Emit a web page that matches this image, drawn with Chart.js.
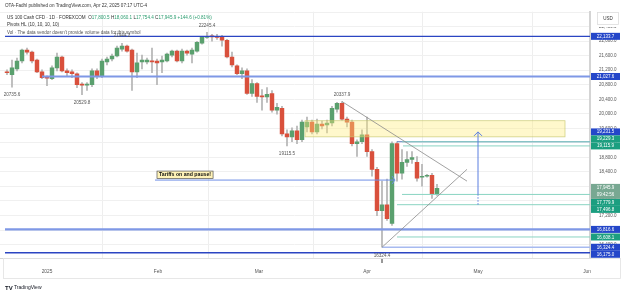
<!DOCTYPE html>
<html>
<head>
<meta charset="utf-8">
<script src="https://cdn.jsdelivr.net/npm/chart.js@4.4.1/dist/chart.umd.min.js"></script>
<style>
  html, body { margin: 0; padding: 0; background: #fff; }
  canvas { display: block; }
</style>
</head>
<body>
<canvas id="chart" width="625" height="293"></canvas>
<script>
// US 100 Cash CFD, daily bars. Bar index 1 = Dec 20 2024 ... 87 = Apr 22 2025
const opens = [21157, 21076, 21238, 21455, 21754, 21700, 21483, 21157, 20994, 20967,
  21266, 21564, 21184, 21157, 21103, 20804, 20790, 20804, 21184, 21021,
  21428, 21510, 21591, 21781, 21862, 21754, 21157, 21428, 21428, 21455,
  21455, 21428, 21455, 21618, 21727, 21455, 21727, 21645, 21727, 21944,
  22107, 22134, 22134, 22107, 22025, 21564, 21320, 21103, 21184, 20560,
  20832, 20479, 20466, 20560, 20099, 20153, 19448, 19366, 19529, 19285,
  19638, 19773, 19502, 19719, 19692, 19746, 20126, 20289, 19855, 19773,
  19177, 19231, 19421, 18960, 18471, 17332, 17494, 16979, 19177, 18363,
  18661, 18742, 18661, 18254, 18281, 18308, 17800.5];
const highs = [21211, 21483, 21537, 21781, 21808, 21727, 21510, 21211, 21049, 21320,
  21672, 21591, 21238, 21211, 21130, 20859, 20859, 21238, 21238, 21510,
  21564, 21645, 21862, 21944.2, 21890, 21781, 21672, 21618, 21537, 21808,
  21510, 21591, 21672, 21754, 21754, 21781, 21754, 21808, 21998, 22134,
  22245.4, 22188, 22188, 22161, 22052, 21700, 21347, 21266, 21238, 20940,
  20859, 20669, 20723, 20641, 20289, 20207, 19557, 19611, 19665, 19828,
  19909, 19828, 19855, 19801, 19828, 20207, 20316, 20337.9, 19909, 19828,
  19285, 19557, 19909, 19014, 18525, 18146, 18200, 19231, 19231, 19014,
  18960, 18960, 18824, 18607, 18335, 18363, 18060.1];
const lows = [21076, 20735.6, 21184, 21401, 21645, 21401, 21130, 20967, 20777, 20940,
  21184, 21157, 21049, 20994, 20723, 20529.8, 20641, 20750, 20967, 20994,
  21347, 21455, 21564, 21727, 21700, 20641, 20994, 21238, 21374, 21130,
  20804, 21130, 21428, 21564, 21428, 21401, 21618, 21401, 21700, 21917,
  22079, 21998, 22052, 21862, 21537, 21293, 21076, 20967, 20533, 20479,
  20316, 20099, 20316, 20045, 19990, 19394, 19115.5, 19231, 19177, 19231,
  19502, 19448, 19448, 19584, 19475, 19665, 20045, 19828, 19638, 19116,
  18824, 19177, 18824, 18281, 17196, 16324.4, 17061, 16925, 18146, 18200,
  18553, 18634, 18146, 18010, 18254, 17670, 17754.4];
const closes = [21130, 21266, 21455, 21754, 21700, 21455, 21157, 20994, 20980, 21266,
  21564, 21184, 21130, 21103, 20804, 20790, 20810, 21184, 21021, 21455,
  21510, 21591, 21808, 21862, 21727, 21157, 21401, 21483, 21483, 21428,
  21401, 21483, 21645, 21727, 21455, 21727, 21672, 21754, 21971, 22107,
  22134, 22120, 22107, 22025, 21564, 21347, 21103, 21184, 20560, 20832,
  20479, 20466, 20533, 20099, 20180, 19448, 19366, 19529, 19285, 19773,
  19773, 19502, 19719, 19665, 19746, 20153, 20289, 19855, 19773, 19177,
  19231, 19421, 18960, 18471, 17332, 17494, 17115, 19177, 18363, 18661,
  18742, 18797, 18227, 18281, 18308, 17801.3, 17945.9];

// time axis
const monthTicks = [9, 31.2, 51.4, 73, 95.2, 117];
const monthLabels = ['2025', 'Feb', 'Mar', 'Apr', 'May', 'Jun'];

// price axis ticks
const priceTicks = [16000, 16400, 16800, 17200, 17600, 18000, 18400, 18800, 19200, 19600,
  20000, 20400, 20800, 21200, 21600, 22000, 22400, 22800];

// pivot high / low labels (bar index, which end)
const pivotBars = [2, 16, 24, 41, 57, 68, 76];
const pivotSides = ['low', 'low', 'high', 'high', 'low', 'high', 'low'];

// horizontal levels drawn on the chart, with the bar they start from
const levelPrices = [22133.7, 21027.6, 19231.5, 19229.3, 19115.9, 17779.9, 17496.8, 16816.6, 16608.1, 16324.4, 16175.0];
const levelFrom   = [0.6, 8, 79, 80, 80.2, 80, 79, 0.6, 79, 76, 0.6];
const levelKinds  = ['dark', 'wide', 'soft', 'teal', 'teal', 'teal', 'teal', 'wide', 'teal', 'light', 'dark'];

// yellow supply zone
const zoneBars = [60.6, 112.6];
const zonePrices = [19366, 19810];

// triangle lines [bar, price]
const triUpper = [[68, 20337.9], [93, 18146]];
const triLower = [[76, 16324.4], [93, 18471]];

// projection arrow and tariff note
const projBar = 95.2;
const projPrices = [17496.8, 17779.9, 19502];
const tariffBars = [30.6, 78.6];
const tariffPrice = 18175;
const tariffText = 'Tariffs on and pause!';
const countdown = '09:42:56';

const GREEN = '#5aa06e', RED = '#d9503c';
const levelStyles = {
  dark:  { line: '#2b45c2', width: 1.4, badge: '#2446c9' },
  wide:  { line: '#7f98e6', width: 2.2, badge: '#2446c9' },
  soft:  { line: '#5f7fc0', width: 1,   badge: '#2446c9' },
  light: { line: '#a7baf0', width: 1.4, badge: '#2446c9' },
  teal:  { line: '#8ad4c2', width: 1,   badge: '#1b9e80' }
};

function fmt(v) {
  return v.toLocaleString('en-US', { minimumFractionDigits: 1, maximumFractionDigits: 1 });
}

const bodyData = opens.map((o, i) => ({ x: i + 1, y: [o, closes[i]] }));
const wickData = lows.map((l, i) => ({ x: i + 1, y: [l, highs[i]] }));
const candleColors = opens.map((o, i) => closes[i] >= o ? GREEN : RED);

const FONT = "'Liberation Sans', Arial, sans-serif";

const overlay = {
  id: 'overlay',
  afterDatasetsDraw(chart) {
    const { ctx, chartArea: a, scales: { x, y } } = chart;
    ctx.save();
    ctx.beginPath();
    ctx.rect(a.left, a.top, a.right - a.left, a.bottom - a.top);
    ctx.clip();

    // zone
    const zx1 = x.getPixelForValue(zoneBars[0]), zx2 = x.getPixelForValue(zoneBars[1]);
    const zy1 = y.getPixelForValue(zonePrices[1]), zy2 = y.getPixelForValue(zonePrices[0]);
    ctx.fillStyle = 'rgba(255, 236, 120, 0.38)';
    ctx.fillRect(zx1, zy1, zx2 - zx1, zy2 - zy1);
    ctx.strokeStyle = 'rgba(200, 200, 110, 0.8)';
    ctx.lineWidth = 0.8;
    ctx.strokeRect(zx1, zy1, zx2 - zx1, zy2 - zy1);

    // levels
    levelPrices.forEach((p, k) => {
      const st = levelStyles[levelKinds[k]];
      const py = y.getPixelForValue(p);
      ctx.strokeStyle = st.line;
      ctx.lineWidth = st.width;
      ctx.beginPath();
      ctx.moveTo(x.getPixelForValue(levelFrom[k]), py);
      ctx.lineTo(a.right, py);
      ctx.stroke();
    });

    // triangle
    ctx.strokeStyle = '#8a8a8a';
    ctx.lineWidth = 0.8;
    [triUpper, triLower].forEach(seg => {
      ctx.beginPath();
      ctx.moveTo(x.getPixelForValue(seg[0][0]), y.getPixelForValue(seg[0][1]));
      ctx.lineTo(x.getPixelForValue(seg[1][0]), y.getPixelForValue(seg[1][1]));
      ctx.stroke();
    });

    // projection arrow
    const px = x.getPixelForValue(projBar);
    const p0 = y.getPixelForValue(projPrices[0]), p1 = y.getPixelForValue(projPrices[1]), p2 = y.getPixelForValue(projPrices[2]);
    ctx.strokeStyle = '#5b7fe0';
    ctx.lineWidth = 1;
    ctx.setLineDash([1.5, 1.5]);
    ctx.beginPath(); ctx.moveTo(px, p0); ctx.lineTo(px, p1); ctx.stroke();
    ctx.setLineDash([]);
    ctx.beginPath(); ctx.moveTo(px, p1); ctx.lineTo(px, p2); ctx.stroke();
    ctx.beginPath(); ctx.moveTo(px - 4, p2 + 4); ctx.lineTo(px, p2); ctx.lineTo(px + 4, p2 + 4); ctx.stroke();

    // tariff arrow
    const tx1 = x.getPixelForValue(tariffBars[0]), tx2 = x.getPixelForValue(tariffBars[1]);
    const ty = y.getPixelForValue(tariffPrice);
    ctx.strokeStyle = '#6f8ee6';
    ctx.lineWidth = 1;
    ctx.beginPath(); ctx.moveTo(tx1, ty); ctx.lineTo(tx2, ty); ctx.stroke();
    ctx.beginPath(); ctx.moveTo(tx2 - 3, ty - 4); ctx.lineTo(tx2, ty); ctx.lineTo(tx2 - 3, ty + 4); ctx.stroke();
    ctx.restore();

    // tariff note
    ctx.save();
    ctx.font = 'bold 5.2px ' + FONT;
    const tw = ctx.measureText(tariffText).width;
    ctx.fillStyle = '#fff3b8';
    ctx.fillRect(tx1 + 2, ty - 9, tw + 4, 7.5);
    ctx.strokeStyle = '#555';
    ctx.lineWidth = 0.7;
    ctx.strokeRect(tx1 + 2, ty - 9, tw + 4, 7.5);
    ctx.fillStyle = '#111';
    ctx.textBaseline = 'middle';
    ctx.fillText(tariffText, tx1 + 4, ty - 5.2);

    // pivot labels
    ctx.font = '4.6px ' + FONT;
    ctx.fillStyle = '#555';
    ctx.textAlign = 'center';
    pivotBars.forEach((b, k) => {
      const i = b - 1;
      const bx = x.getPixelForValue(b);
      if (pivotSides[k] === 'high') {
        ctx.fillText(highs[i].toFixed(1), bx, y.getPixelForValue(highs[i]) - 7);
      } else {
        ctx.fillText(lows[i].toFixed(1), bx, y.getPixelForValue(lows[i]) + 8);
      }
    });
    // event marker under the low
    ctx.strokeStyle = '#333';
    ctx.lineWidth = 1;
    ctx.beginPath();
    ctx.moveTo(x.getPixelForValue(76), a.bottom + 1);
    ctx.lineTo(x.getPixelForValue(76), a.bottom + 5);
    ctx.stroke();
    ctx.restore();
  },
  afterDraw(chart) {
    const { ctx, chartArea: a, scales: { y } } = chart;
    ctx.save();

    // price badges on the axis
    const last = closes[closes.length - 1];
    const cy = y.getPixelForValue(last);
    const cTop = cy - 4.5, cBot = cy + 10.5;
    const badges = levelPrices.map((p, k) => ({ p, y: y.getPixelForValue(p), color: levelStyles[levelKinds[k]].badge }));
    const above = badges.filter(b => b.p > last).sort((m, n) => m.p - n.p);
    const below = badges.filter(b => b.p <= last).sort((m, n) => n.p - m.p);
    let lim = cTop - 3.5;
    above.forEach(b => { b.y = Math.min(b.y, lim); lim = b.y - 7; });
    lim = cBot + 3.5;
    below.forEach(b => { b.y = Math.max(b.y, lim); lim = b.y + 7; });

    const bx = a.right + 1, bw = 29;
    ctx.font = '4.5px ' + FONT;
    ctx.textAlign = 'center';
    ctx.textBaseline = 'middle';
    badges.forEach(b => {
      ctx.fillStyle = b.color;
      ctx.fillRect(bx, b.y - 3.5, bw, 7);
      ctx.fillStyle = '#fff';
      ctx.fillText(fmt(b.p), bx + bw / 2, b.y + 0.3);
    });
    ctx.fillStyle = '#78a892';
    ctx.fillRect(bx, cTop, bw, cBot - cTop);
    ctx.fillStyle = '#fff';
    ctx.fillText(fmt(last), bx + bw / 2, cy - 0.5);
    ctx.fillText(countdown, bx + bw / 2, cy + 6.5);

    // USD box (the top of the price scale sits behind it)
    ctx.fillStyle = '#fff';
    ctx.fillRect(a.right + 2, 0, 625 - a.right, 27);
    ctx.strokeStyle = '#dddddd';
    ctx.lineWidth = 0.8;
    ctx.strokeRect(597.5, 12.5, 21, 12);
    ctx.fillStyle = '#333';
    ctx.fillText('USD', 608, 18.8);

    // time axis frame
    ctx.strokeStyle = '#e2e2e2';
    ctx.strokeRect(3.5, a.bottom + 0.5, 617, 20);

    // header
    ctx.textAlign = 'left';
    ctx.textBaseline = 'middle';
    ctx.font = '4.6px ' + FONT;
    ctx.fillStyle = '#333';
    ctx.fillText('OTA-Fadhl published on TradingView.com, Apr 22, 2025 07:17 UTC-4', 5, 6);
    const n = opens.length - 1;
    const chg = closes[n] - closes[n - 1];
    const segs = [
      ['US 100 Cash CFD \u00b7 1D \u00b7 FOREXCOM  ', '#333'],
      ['O', '#333'], [fmt(opens[n]) + ' ', '#2a9d6f'],
      ['H', '#333'], [fmt(highs[n]) + ' ', '#2a9d6f'],
      ['L', '#333'], [fmt(lows[n]) + ' ', '#2a9d6f'],
      ['C', '#333'], [fmt(closes[n]) + ' ', '#2a9d6f'],
      ['+' + chg.toFixed(1) + ' (+' + (chg / closes[n - 1] * 100).toFixed(2) + '%)', '#2a9d6f']
    ];
    let hx = 7;
    segs.forEach(s => {
      ctx.fillStyle = s[1];
      ctx.fillText(s[0], hx, 18);
      hx += ctx.measureText(s[0]).width;
    });
    ctx.fillStyle = '#333';
    ctx.fillText('Pivots HL (10, 10, 10, 10)', 7, 25);
    ctx.fillStyle = '#555';
    ctx.fillText('Vol \u00b7 The data vendor doesn\u2019t provide volume data for this symbol', 7, 32.5);

    // footer logo
    ctx.font = 'bold 6px ' + FONT;
    ctx.fillStyle = '#131722';
    ctx.fillText('TV', 5, 288);
    ctx.font = '5px ' + FONT;
    ctx.fillText('TradingView', 14, 288);
    ctx.restore();
  }
};

new Chart(document.getElementById('chart').getContext('2d'), {
  type: 'bar',
  data: {
    datasets: [
      { label: 'body', data: bodyData, backgroundColor: candleColors, borderWidth: 0,
        barThickness: 3.8, minBarLength: 1, grouped: false },
      { label: 'wick', data: wickData, backgroundColor: '#b3b3b3', borderWidth: 0,
        barThickness: 1, grouped: false }
    ]
  },
  options: {
    responsive: false,
    animation: false,
    layout: { padding: { top: 8, left: 0, right: 0, bottom: 0 } },
    plugins: { legend: { display: false }, tooltip: { enabled: false } },
    scales: {
      x: {
        type: 'linear', min: -0.4, max: 117.6, offset: false,
        afterBuildTicks: s => { s.ticks = monthTicks.map(v => ({ value: v })); },
        afterFit: s => { s.height = 35; },
        ticks: { callback: (v, i) => monthLabels[i], font: { size: 4.8, family: FONT },
                 color: '#555', padding: 11, maxRotation: 0, autoSkip: false },
        grid: { color: '#eeeeee', drawTicks: false },
        border: { color: '#d4d4d4' }
      },
      y: {
        position: 'right', min: 16029, max: 22812,
        afterBuildTicks: s => { s.ticks = priceTicks.filter(v => v >= s.min && v <= s.max).map(v => ({ value: v })); },
        afterFit: s => { s.width = 35; },
        ticks: { callback: v => fmt(v), font: { size: 4.5, family: FONT }, color: '#555', padding: 9 },
        grid: { color: '#f0f0f0', drawTicks: false },
        border: { color: '#d4d4d4', width: 2 }
      }
    }
  },
  plugins: [overlay]
});
</script>
</body>
</html>
